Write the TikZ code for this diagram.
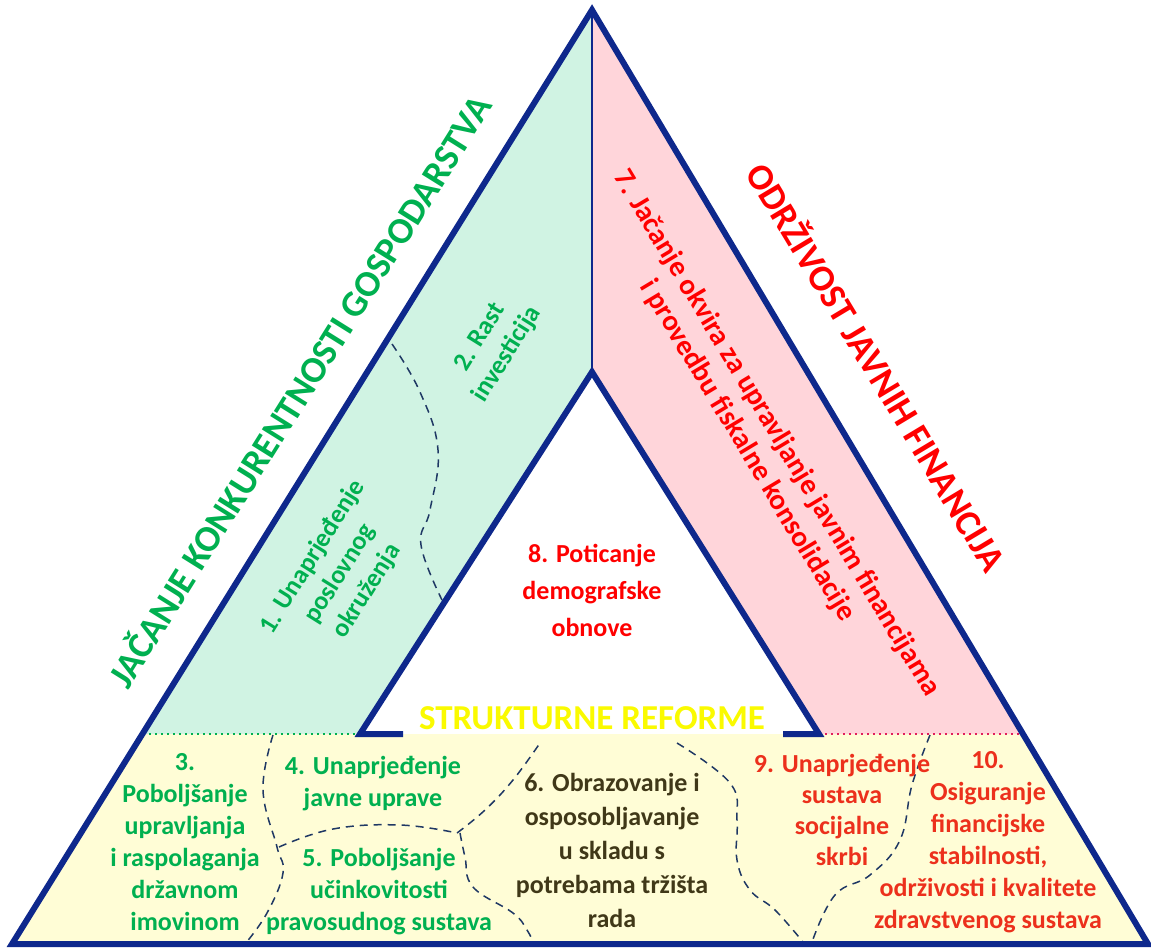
\documentclass[tikz,border=0pt]{standalone}
\usepackage{fontspec}
\setmainfont{Carlito}
\usetikzlibrary{positioning}

\definecolor{navy}{RGB}{14,40,140}
\definecolor{mint}{RGB}{208,243,227}
\definecolor{rose}{RGB}{255,213,218}
\definecolor{cream}{RGB}{255,253,214}
\definecolor{ggreen}{RGB}{0,176,80}
\definecolor{rred}{RGB}{255,0,0}
\definecolor{ored}{RGB}{236,48,28}
\definecolor{olive}{RGB}{64,56,24}
\definecolor{yel}{RGB}{250,250,0}
\definecolor{dashc}{RGB}{31,56,100}
\definecolor{pinkdot}{RGB}{225,30,90}

\tikzset{
  lbl/.style={font=\bfseries\fontsize{13}{16}\selectfont, align=center, inner sep=0pt},
  head/.style={font=\bfseries\fontsize{18.5}{22}\selectfont, inner sep=0pt},
  border/.style={draw=navy, line width=3pt, line join=miter},
  split/.style={draw=dashc, line width=0.75pt, dash pattern=on 4pt off 3pt},
}

\begin{document}
\begin{tikzpicture}[x=0.5pt,y=-0.5pt]
\useasboundingbox (0,0) rectangle (1151,948);

% corners
\coordinate (top) at (592,10);
\coordinate (bl) at (12,944);
\coordinate (br) at (1148,944);
\coordinate (itop) at (592,372);
\coordinate (ibl) at (360,734);
\coordinate (ibr) at (819,734);
\coordinate (gl) at (143,734);
\coordinate (pr) at (1022,734);

% areas
\fill[cream] (gl) -- (pr) -- (br) -- (bl) -- cycle;
\fill[mint] (top) -- (itop) -- (ibl) -- (gl) -- cycle;
\fill[rose] (top) -- (pr) -- (ibr) -- (itop) -- cycle;

\draw[ggreen, line width=1pt, dotted] (gl) -- (ibl);
\draw[pinkdot, line width=1pt, dotted] (ibr) -- (pr);

% borders between areas
\draw[split] plot[smooth, tension=0.7] coordinates {(392,344) (420,392) (438,450) (430,510) (421,545) (442,600)};
\draw[split] plot[smooth, tension=0.7] coordinates {(273,735) (263,790) (277,847) (283,873) (267,913) (245,944)};
\draw[split] plot[smooth, tension=0.7] coordinates {(279,847) (333,829) (400,825) (457,833)};
\draw[split] plot[smooth, tension=0.7] coordinates {(457,833) (485,810) (513,780) (540,743)};
\draw[split] plot[smooth, tension=0.7] coordinates {(460,833) (465,857) (473,887) (513,913) (527,930) (533,942)};
\draw[split] plot[smooth, tension=0.7] coordinates {(677,743) (730,783) (737,820) (737,860) (750,890) (775,910) (803,942)};
\draw[split] plot[smooth, tension=0.7] coordinates {(930,735) (912,785) (900,840) (870,875) (835,895) (812,942)};

\draw[navy, line width=1pt] (top) -- (itop);
\draw[border] (403,734) -- (ibl) -- (itop) -- (ibr) -- (783,734);
\draw[border] (top) -- (bl) -- (br) -- cycle;

% headings
\node[head, text=ggreen, rotate=58] (jacanje) at (298,390) {JAČANJE KONKURENTNOSTI GOSPODARSTVA};
\node[head, text=rred, rotate=-59] (odrzivost) at (878,366) {ODRŽIVOST JAVNIH FINANCIJA};
\node[font=\bfseries\fontsize{17.5}{20}\selectfont, text=yel, inner sep=0pt] (reforme) at (592,718) {STRUKTURNE REFORME};

% goals
\node[lbl, text=ggreen, rotate=58] (okruzenje) at (340,574) {1. Unaprjeđenje\\poslovnog\\okruženja};
\node[lbl, text=ggreen, rotate=58] (investicije) at (494,346) {2. Rast\\investicija};
\node[lbl, text=rred, rotate=-59, font=\bfseries\fontsize{14.5}{17}\selectfont] (okvir) at (762,442) {7. Jačanje okvira za upravljanje javnim financijama\\i provedbu fiskalne konsolidacije};
\node[lbl, text=rred, font=\bfseries\fontsize{13}{18.5}\selectfont] (demografija) at (592,590) {8. Poticanje\\demografske\\obnove};

\node[lbl, text=ggreen] (imovina) at (185,842) {3.\\Poboljšanje\\upravljanja\\i raspolaganja\\državnom\\imovinom};
\node[lbl, text=ggreen] (uprava) at (373,784) {4. Unaprjeđenje\\javne uprave};
\node[lbl, text=ggreen] (pravosudje) at (379,892) {5. Poboljšanje\\učinkovitosti\\pravosudnog sustava};
\node[lbl, text=olive, font=\bfseries\fontsize{13}{17}\selectfont] (obrazovanje) at (612,850) {6. Obrazovanje i\\osposobljavanje\\u skladu s\\potrebama tržišta\\rada};
\node[lbl, text=ored, font=\bfseries\fontsize{13}{15.5}\selectfont] (skrb) at (842,810) {9. Unaprjeđenje\\sustava\\socijalne\\skrbi};
\node[lbl, text=ored] (zdravstvo) at (988,842) {10.\\Osiguranje\\financijske\\stabilnosti,\\održivosti i kvalitete\\zdravstvenog sustava};
\end{tikzpicture}
\end{document}
